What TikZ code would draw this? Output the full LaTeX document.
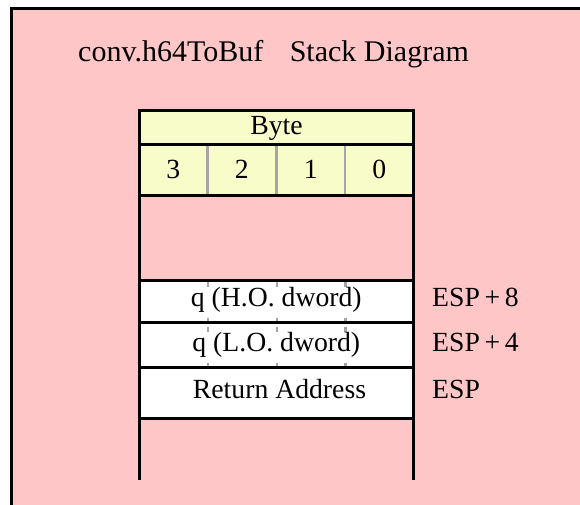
\documentclass[tikz,border=0pt]{standalone}
\usepackage{fontspec}
\setmainfont{Liberation Serif}
\definecolor{bgpink}{RGB}{255,198,199}
\definecolor{hdryellow}{RGB}{248,252,200}
\definecolor{divgray}{RGB}{165,165,165}
\tikzset{
  frameline/.style={line width=3pt, draw=black},
  divline/.style={line width=2.5pt, draw=divgray},
  dashdiv/.style={line width=2.5pt, draw=divgray, dash pattern=on 5pt off 4pt},
  celltext/.style={font=\fontsize{27.7}{31}\selectfont, inner sep=0pt, anchor=base},
  masktext/.style={celltext, fill=white, text height=18.5pt, text depth=7pt, inner ysep=0pt, inner xsep=1pt},
  esptext/.style={font=\fontsize{27.7}{31}\selectfont, inner sep=0pt, anchor=base west},
  titletext/.style={font=\fontsize{30}{34}\selectfont, inner sep=0pt, anchor=base west}
}
\begin{document}
\begin{tikzpicture}[x=1pt,y=-1pt]
\useasboundingbox (0,0) rectangle (580,504);
\clip (0,0) rectangle (580,504);
\fill[white] (0,0) rectangle (580,504);
\draw[frameline, fill=bgpink] (11.5,8.2) rectangle (620,540);

\node[titletext] (title) at (78,61) {conv.h64ToBuf\hspace{26.5pt}Stack Diagram};

% header "Byte"
\fill[hdryellow] (139.5,110.7) rectangle (413.5,195.5);
\node[celltext] (byte) at (276.5,134.3) {Byte};
\draw[divline] (207.3,144.7) -- (207.3,195.5);
\draw[divline] (276.3,144.7) -- (276.3,195.5);
\draw[divline] (345.2,144.7) -- (345.2,195.5);
\node[celltext] (b3) at (173.4,178.3) {3};
\node[celltext] (b2) at (241.8,178.3) {2};
\node[celltext] (b1) at (310.8,178.3) {1};
\node[celltext] (b0) at (379.4,178.3) {0};
\draw[frameline] (139.5,110.7) rectangle (413.5,195.5);
\draw[frameline] (139.5,144.7) -- (413.5,144.7);

% stack rows
\fill[white] (139.5,280.5) rectangle (413.5,418);
\draw[dashdiv] (207.8,282) -- (207.8,367);
\draw[dashdiv] (276.8,282) -- (276.8,367);
\draw[dashdiv] (345.5,282) -- (345.5,367);
\node[masktext] (qho) at (276.3,306.7) {q (H.O. dword)};
\node[masktext] (qlo) at (276.3,351.7) {q (L.O. dword)};
\node[celltext] (ret) at (279.5,398.3) {Return Address};

\draw[frameline] (139.5,195.5) -- (139.5,480);
\draw[frameline] (413.5,195.5) -- (413.5,480);
\draw[frameline] (139.5,280.5) -- (413.5,280.5);
\draw[frameline] (139.5,322) -- (413.5,322);
\draw[frameline] (139.5,367.5) -- (413.5,367.5);
\draw[frameline] (139.5,418) -- (413.5,418);

\node[esptext] (esp8) at (432,306.7) {ESP\,+\,8};
\node[esptext] (esp4) at (432,351.7) {ESP\,+\,4};
\node[esptext] (esp0) at (432,398.3) {ESP};
\end{tikzpicture}
\end{document}
